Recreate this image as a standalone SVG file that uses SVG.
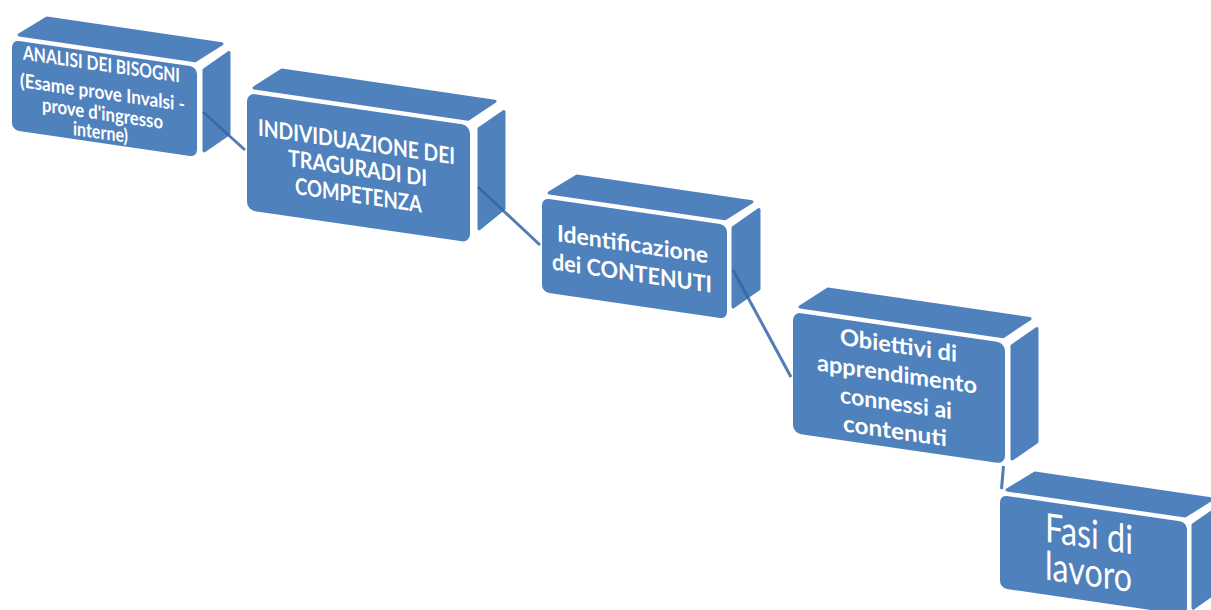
<svg xmlns="http://www.w3.org/2000/svg" width="1211" height="610" viewBox="0 0 1211 610">
<style>
.face{fill:#4f81bd;}
.poly{fill:#4f81bd;stroke:#4f81bd;stroke-width:3;stroke-linejoin:round;}
.t{fill:#ffffff;font-family:Lato,"Open Sans","Liberation Sans",sans-serif;font-weight:700;}
.tr{fill:#ffffff;font-family:Lato,"Open Sans","Liberation Sans",sans-serif;font-weight:400;}
.conn{stroke:#3465a4;stroke-opacity:0.85;stroke-width:3;fill:none;stroke-linecap:butt;}
</style>
<rect width="1211" height="610" fill="#ffffff"/>
<g id="n1" transform="translate(12,40) skewY(8.3)">
  <polygon class="poly" points="7,-6 183,-6 210,-27 35,-27"/>
  <polygon class="poly" points="192,2 217,-19 217,62 192,83"/>
  <rect class="face" x="0" y="0" width="185" height="90" rx="7"/>
  <text class="t" font-size="19.5" x="11" y="18" textLength="157" lengthAdjust="spacingAndGlyphs">ANALISI DEI BISOGNI</text>
  <text class="t" font-size="19.5" x="8" y="46" textLength="165" lengthAdjust="spacingAndGlyphs">(Esame prove Invalsi -</text>
  <text class="t" font-size="19.5" x="30" y="67" textLength="121" lengthAdjust="spacingAndGlyphs">prove d'ingresso</text>
  <text class="t" font-size="19.5" x="61" y="86" textLength="55" lengthAdjust="spacingAndGlyphs">interne)</text>
</g>
<g id="n2" transform="translate(247,93) skewY(8.3)">
  <polygon class="poly" points="7,-6 221,-6 248,-28 35,-28"/>
  <polygon class="poly" points="232,2 257,-19 257,78 232,102"/>
  <rect class="face" x="0" y="0" width="223" height="117" rx="8"/>
  <text class="t" font-size="23" x="11" y="41" textLength="197" lengthAdjust="spacingAndGlyphs">INDIVIDUAZIONE DEI</text>
  <text class="t" font-size="23" x="41" y="67" textLength="139" lengthAdjust="spacingAndGlyphs">TRAGURADI DI</text>
  <text class="t" font-size="23" x="48" y="94" textLength="127" lengthAdjust="spacingAndGlyphs">COMPETENZA</text>
</g>
<g id="n3" transform="translate(542,198) skewY(8.3)">
  <polygon class="poly" points="7,-6 183,-6 210,-27 35,-27"/>
  <polygon class="poly" points="191,2 217,-20 217,59 191,81"/>
  <rect class="face" x="0" y="0" width="185" height="94" rx="7"/>
  <text class="t" font-size="23" x="15" y="41" textLength="151" lengthAdjust="spacingAndGlyphs">Identificazione</text>
  <text class="t" font-size="23" x="10" y="70" textLength="160" lengthAdjust="spacingAndGlyphs">dei CONTENUTI</text>
</g>
<g id="n4" transform="translate(793,312) skewY(8.3)">
  <polygon class="poly" points="7,-6 210,-6 237,-28 35,-28"/>
  <polygon class="poly" points="219,2 244,-19 244,94 219,115"/>
  <rect class="face" x="0" y="0" width="212" height="121" rx="8"/>
  <text class="t" font-size="23" x="47" y="26" textLength="117" lengthAdjust="spacingAndGlyphs">Obiettivi di</text>
  <text class="t" font-size="23" x="24" y="55" textLength="160" lengthAdjust="spacingAndGlyphs">apprendimento</text>
  <text class="t" font-size="23" x="47" y="84" textLength="112" lengthAdjust="spacingAndGlyphs">connessi ai</text>
  <text class="t" font-size="23" x="50" y="112" textLength="104" lengthAdjust="spacingAndGlyphs">contenuti</text>
</g>
<g id="n5" transform="translate(1000,495) skewY(8.3)">
  <polygon class="poly" points="7,-6 185,-6 212,-27 35,-27"/>
  <polygon class="poly" points="193,2 219,-20 219,63 193,85"/>
  <rect class="face" x="0" y="0" width="187" height="93" rx="7"/>
  <text class="tr" font-size="40" x="45" y="40" textLength="88" lengthAdjust="spacingAndGlyphs">Fasi di</text>
  <text class="tr" font-size="40" x="45" y="78" textLength="87" lengthAdjust="spacingAndGlyphs">lavoro</text>
</g>
<g id="connectors">
  <line class="conn" x1="203" y1="112" x2="245" y2="150"/>
  <line class="conn" x1="478" y1="187" x2="540" y2="245"/>
  <line class="conn" x1="733" y1="270" x2="791" y2="377"/>
  <line class="conn" x1="1003.5" y1="466" x2="1001.5" y2="489"/>
</g>
</svg>
